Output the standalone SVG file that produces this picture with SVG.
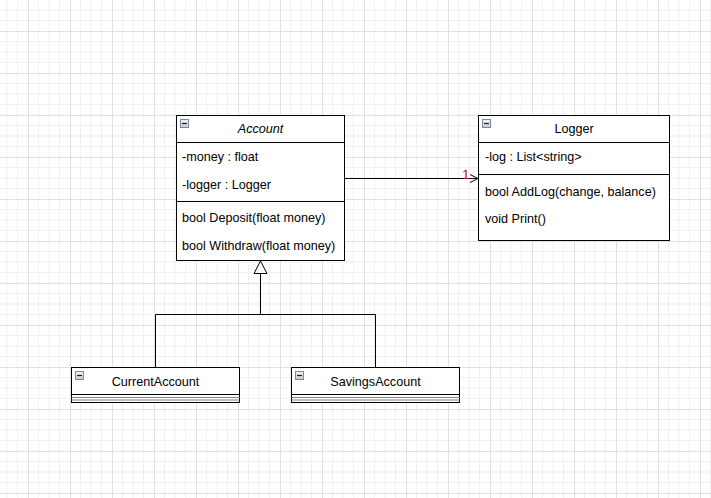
<svg xmlns="http://www.w3.org/2000/svg" width="711" height="498" viewBox="0 0 711 498">
<defs>
<pattern id="grid" x="28" y="31" width="42" height="42" patternUnits="userSpaceOnUse">
<rect width="42" height="42" fill="#ffffff"/>
<path d="M10.5 0V42M21 0V42M31.5 0V42M0 10.5H42M0 21H42M0 31.5H42" stroke="#f0f0f0" stroke-width="1" fill="none"/>
<path d="M0.5 0V42M0 0.5H42" stroke="#e0e0e0" stroke-width="1" fill="none"/>
</pattern>
<linearGradient id="ig" x1="0" y1="0" x2="0" y2="1">
<stop offset="0" stop-color="#f4f4f4"/>
<stop offset="1" stop-color="#c8c8c8"/>
</linearGradient>
<g id="icon">
<rect x="0.5" y="0.5" width="8" height="8" fill="url(#ig)" stroke="#7a8a9a"/>
<path d="M2 4.5H7" stroke="#202020" stroke-width="1.2"/>
</g>
</defs>
<style>
.box{fill:#ffffff;stroke:#000000;stroke-width:1}
.sep{stroke:#000000;stroke-width:1}
.sep2{stroke:#808080;stroke-width:1}
text{font-family:"Liberation Sans",Arial,sans-serif;font-size:12.6px;fill:#000000}
.c{text-anchor:middle}
.it{font-style:italic}
.ln{fill:none;stroke:#000000;stroke-width:1}
</style>
<rect width="711" height="498" fill="url(#grid)"/>

<g id="Account">
<rect class="box" x="176.5" y="115.5" width="168" height="145"/>
<line class="sep" x1="176.5" y1="142.5" x2="344.5" y2="142.5"/>
<line class="sep" x1="176.5" y1="201.5" x2="344.5" y2="201.5"/>
<use href="#icon" x="180" y="119"/>
<text class="c it" x="260.5" y="133">Account</text>
<text x="182" y="161">-money : float</text>
<text x="182" y="189">-logger : Logger</text>
<text x="182" y="222">bool Deposit(float money)</text>
<text x="182" y="250">bool Withdraw(float money)</text>
</g>

<g id="Logger">
<rect class="box" x="478.5" y="115.5" width="191" height="125"/>
<line class="sep" x1="478.5" y1="142.5" x2="669.5" y2="142.5"/>
<line class="sep" x1="478.5" y1="174.5" x2="669.5" y2="174.5"/>
<use href="#icon" x="482" y="119"/>
<text class="c" x="574" y="133">Logger</text>
<text x="485" y="161">-log : List&lt;string&gt;</text>
<text x="485" y="196">bool AddLog(change, balance)</text>
<text x="485" y="223">void Print()</text>
</g>

<g id="CurrentAccount">
<rect class="box" x="71.5" y="367.5" width="168" height="35"/>
<line class="sep" x1="71.5" y1="394.5" x2="239.5" y2="394.5"/>
<line class="sep2" x1="71.5" y1="397.5" x2="239.5" y2="397.5"/>
<line class="sep2" x1="71.5" y1="400" x2="239.5" y2="400"/>
<use href="#icon" x="75" y="371"/>
<text class="c" x="155.5" y="386">CurrentAccount</text>
</g>

<g id="SavingsAccount">
<rect class="box" x="291.5" y="367.5" width="168" height="35"/>
<line class="sep" x1="291.5" y1="394.5" x2="459.5" y2="394.5"/>
<line class="sep2" x1="291.5" y1="397.5" x2="459.5" y2="397.5"/>
<line class="sep2" x1="291.5" y1="400" x2="459.5" y2="400"/>
<use href="#icon" x="295" y="371"/>
<text class="c" x="375.5" y="386">SavingsAccount</text>
</g>

<g id="connectors">
<line class="ln" x1="344.5" y1="178.5" x2="478" y2="178.5"/>
<polyline class="ln" points="470,174.5 478,178.5 470,182.5"/>
<text x="462" y="179" style="fill:#a01818;font-size:13.5px">1</text>
<polygon points="260.5,261 254,273.5 267,273.5" fill="#ffffff" stroke="#000000" stroke-width="1"/>
<line class="ln" x1="260.5" y1="273.5" x2="260.5" y2="314.5"/>
<polyline class="ln" points="155.5,367 155.5,314.5 375.5,314.5 375.5,367"/>
</g>
</svg>
